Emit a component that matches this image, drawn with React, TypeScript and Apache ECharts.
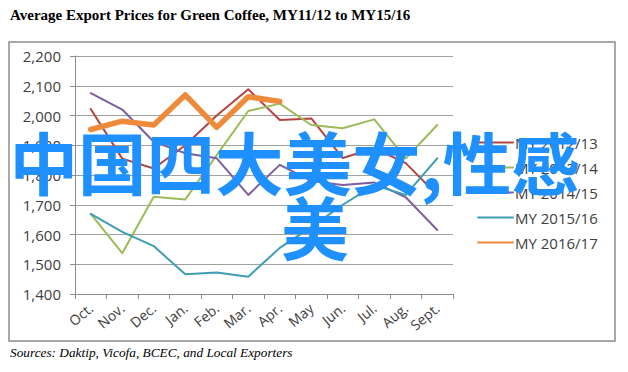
import React, { useEffect, useRef } from "react";
import * as echarts from "echarts";

const title = "Average Export Prices for Green Coffee, MY11/12 to MY15/16";
const sourceNote = "Sources: Daktip, Vicofa, BCEC, and Local Exporters";
const watermarkLine1 = "中国四大美女,性感";
const watermarkLine2 = "美";

const months = ["Oct.", "Nov.", "Dec.", "Jan.", "Feb.", "Mar.", "Apr.", "May", "Jun.", "Jul.", "Aug.", "Sept."];

const seriesNames = ["MY 2012/13", "MY 2013/14", "MY 2014/15", "MY 2015/16", "MY 2016/17"];
const my1213 = [2022, 1855, 1822, 1900, 2000, 2088, 1985, 1990, 1857, 1890, 1840, 1733];
const my1314 = [1669, 1537, 1727, 1718, 1867, 2015, 2040, 1968, 1957, 1987, 1856, 1968];
const my1415 = [2075, 2020, 1912, 1873, 1856, 1733, 1834, 1780, 1766, 1775, 1725, 1615];
const my1516 = [1669, 1609, 1561, 1466, 1472, 1458, 1555, 1625, 1700, 1766, 1733, 1856];
const my1617 = [1953, 1981, 1968, 2069, 1960, 2063, 2047, null, null, null, null, null];

const yTicks = { min: 1400, max: 2200, step: 100 };

const colors = ["#B5443E", "#9BBB59", "#7D5F9E", "#3E9DB3", "#EE8B3A"];
const widths = [2, 2, 2, 2, 5.5];

export default function App() {
  const ref = useRef<HTMLDivElement>(null);

  useEffect(() => {
    if (!ref.current) return;
    const chart = echarts.init(ref.current, null, { renderer: "svg" });
    const data = [my1213, my1314, my1415, my1516, my1617];
    const axisFont = "'Open Sans', 'Noto Sans', sans-serif";
    chart.setOption({
      animation: false,
      backgroundColor: "#ffffff",
      grid: { left: 75, top: 56, width: 378, height: 238, containLabel: false },
      xAxis: {
        type: "category",
        data: months,
        boundaryGap: true,
        axisLine: { show: true, lineStyle: { color: "#8C8C8C", width: 1 } },
        axisTick: { show: true, interval: 0, length: 5, lineStyle: { color: "#8C8C8C" } },
        axisLabel: {
          interval: 0,
          rotate: 40,
          margin: 12,
          fontSize: 14,
          color: "#404040",
          fontFamily: axisFont,
        },
        splitLine: { show: false },
      },
      yAxis: {
        type: "value",
        min: yTicks.min,
        max: yTicks.max,
        interval: yTicks.step,
        axisLine: { show: true, lineStyle: { color: "#8C8C8C", width: 1 } },
        axisTick: { show: true, length: 5, lineStyle: { color: "#8C8C8C" } },
        axisLabel: {
          margin: 14,
          fontSize: 15,
          color: "#404040",
          fontFamily: axisFont,
          formatter: (v: number) => v.toLocaleString("en-US"),
        },
        splitLine: { show: true, lineStyle: { color: "#A0A0A0", width: 1 } },
      },
      legend: {
        orient: "vertical",
        left: 472,
        top: 130,
        itemWidth: 35,
        itemHeight: 14,
        itemGap: 10,
        data: seriesNames,
        itemStyle: { opacity: 0 },
        textStyle: { fontSize: 15, color: "#404040", fontFamily: axisFont, padding: [0, 0, 0, -3] },
      },
      series: seriesNames.map((name, i) => ({
        name,
        type: "line",
        data: data[i],
        symbol: "none",
        connectNulls: false,
        color: colors[i],
        lineStyle: { color: colors[i], width: widths[i], cap: "round", join: "round" },
        z: i === 4 ? 3 : 2,
      })),
      graphic: [
        {
          type: "rect",
          shape: { x: 9, y: 42, width: 606, height: 299 },
          style: { fill: "none", stroke: "#8C8C8C", lineWidth: 1.5 },
          silent: true,
          z: -1,
        },
        {
          type: "text",
          x: 10,
          y: 7,
          style: {
            text: title,
            font: "bold 15px 'Liberation Serif', 'Times New Roman', serif",
            fill: "#000000",
            textVerticalAlign: "top",
          },
        },
        {
          type: "text",
          x: 10,
          y: 352,
          style: {
            text: sourceNote,
            font: "italic 13.3px 'Liberation Serif', 'Times New Roman', serif",
            fill: "#000000",
            textVerticalAlign: "middle",
          },
        },
        {
          type: "text",
          x: 9.5,
          y: 160,
          z: 100,
          style: {
            text: watermarkLine1,
            font: "bold 68.5px 'Noto Sans CJK SC', sans-serif",
            fill: "#1E90FF",
            textVerticalAlign: "middle",
          },
        },
        {
          type: "text",
          x: 281,
          y: 225,
          z: 100,
          style: {
            text: watermarkLine2,
            font: "bold 68px 'Noto Sans CJK SC', sans-serif",
            fill: "#1E90FF",
            textVerticalAlign: "middle",
          },
        },
      ],
    });
    return () => chart.dispose();
  }, []);

  return (
    <div
      ref={ref}
      style={{ position: "fixed", left: 0, top: 0, width: 628, height: 372, background: "#fff" }}
    />
  );
}
